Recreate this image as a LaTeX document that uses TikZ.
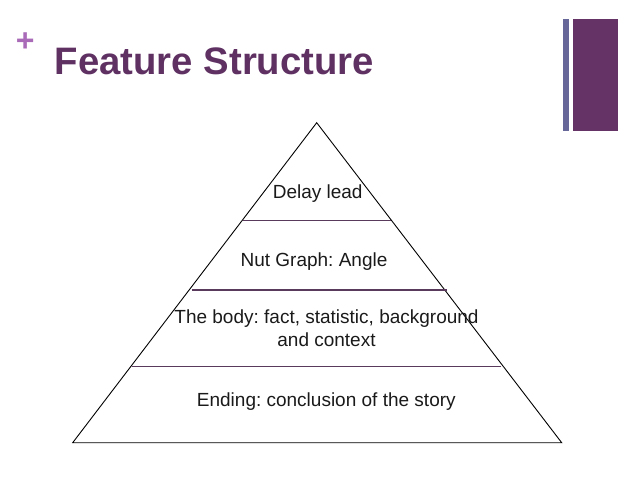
\documentclass[tikz,border=0pt]{standalone}
\usepackage{fontspec}
\setmainfont{Liberation Sans}
\frenchspacing
\definecolor{titlepurple}{HTML}{5F3163}
\definecolor{barpurple}{HTML}{663366}
\definecolor{barblue}{HTML}{676799}
\definecolor{pluspurple}{HTML}{A96BB8}
\definecolor{linepurple}{HTML}{5A3A5C}
\definecolor{textdark}{HTML}{1A1A1A}
\tikzset{
  layertext/.style={anchor=base, inner sep=0pt, text=textdark, font=\fontsize{19}{23.4}\selectfont, align=center},
  divider/.style={draw=linepurple, line width=1.3pt},
  pyramid/.style={draw=black, line width=0.9pt, line join=miter}
}
\begin{document}
\begin{tikzpicture}[x=1pt,y=-1pt]
\useasboundingbox (0,0) rectangle (638,479);
% decorations
\node[anchor=base west, inner sep=0pt, text=pluspurple, font=\fontsize{32}{32}\bfseries\selectfont] (plus) at (15.7,51.3) {+};
\node[anchor=base west, inner sep=0pt, text=titlepurple, font=\fontsize{38.3}{40}\bfseries\selectfont] (title) at (54.6,74) {Feature Structure};
\fill[barblue] (562.7,19.3) rectangle (569.3,131);
\fill[barpurple] (572.7,19.3) rectangle (617.7,131);
% pyramid
\coordinate (apex) at (316.7,122.7);
\coordinate (bl) at (72.7,442.7);
\coordinate (br) at (561.7,442.7);
\draw[pyramid] (apex) -- (bl) -- (br) -- cycle;
\coordinate (d1l) at (243.3,220.7);
\coordinate (d1r) at (391,220.7);
\coordinate (d2l) at (191.5,290);
\coordinate (d2r) at (446.7,290);
\coordinate (d3l) at (131.7,366.7);
\coordinate (d3r) at (500.7,366.7);
\draw[divider] (d1l) -- (d1r);
\draw[divider] (d2l) -- (d2r);
\draw[divider] (d3l) -- (d3r);
% texts
\node[layertext] (lead) at (317.7,198.3) {Delay lead};
\node[layertext] (nut) at (314,266.7) {Nut Graph: Angle};
\node[layertext, anchor=north] (body) at (326.5,309.5) {The body: fact, statistic, background\\and context};
\node[layertext] (ending) at (326.3,406.7) {Ending: conclusion of the story};
\end{tikzpicture}
\end{document}
